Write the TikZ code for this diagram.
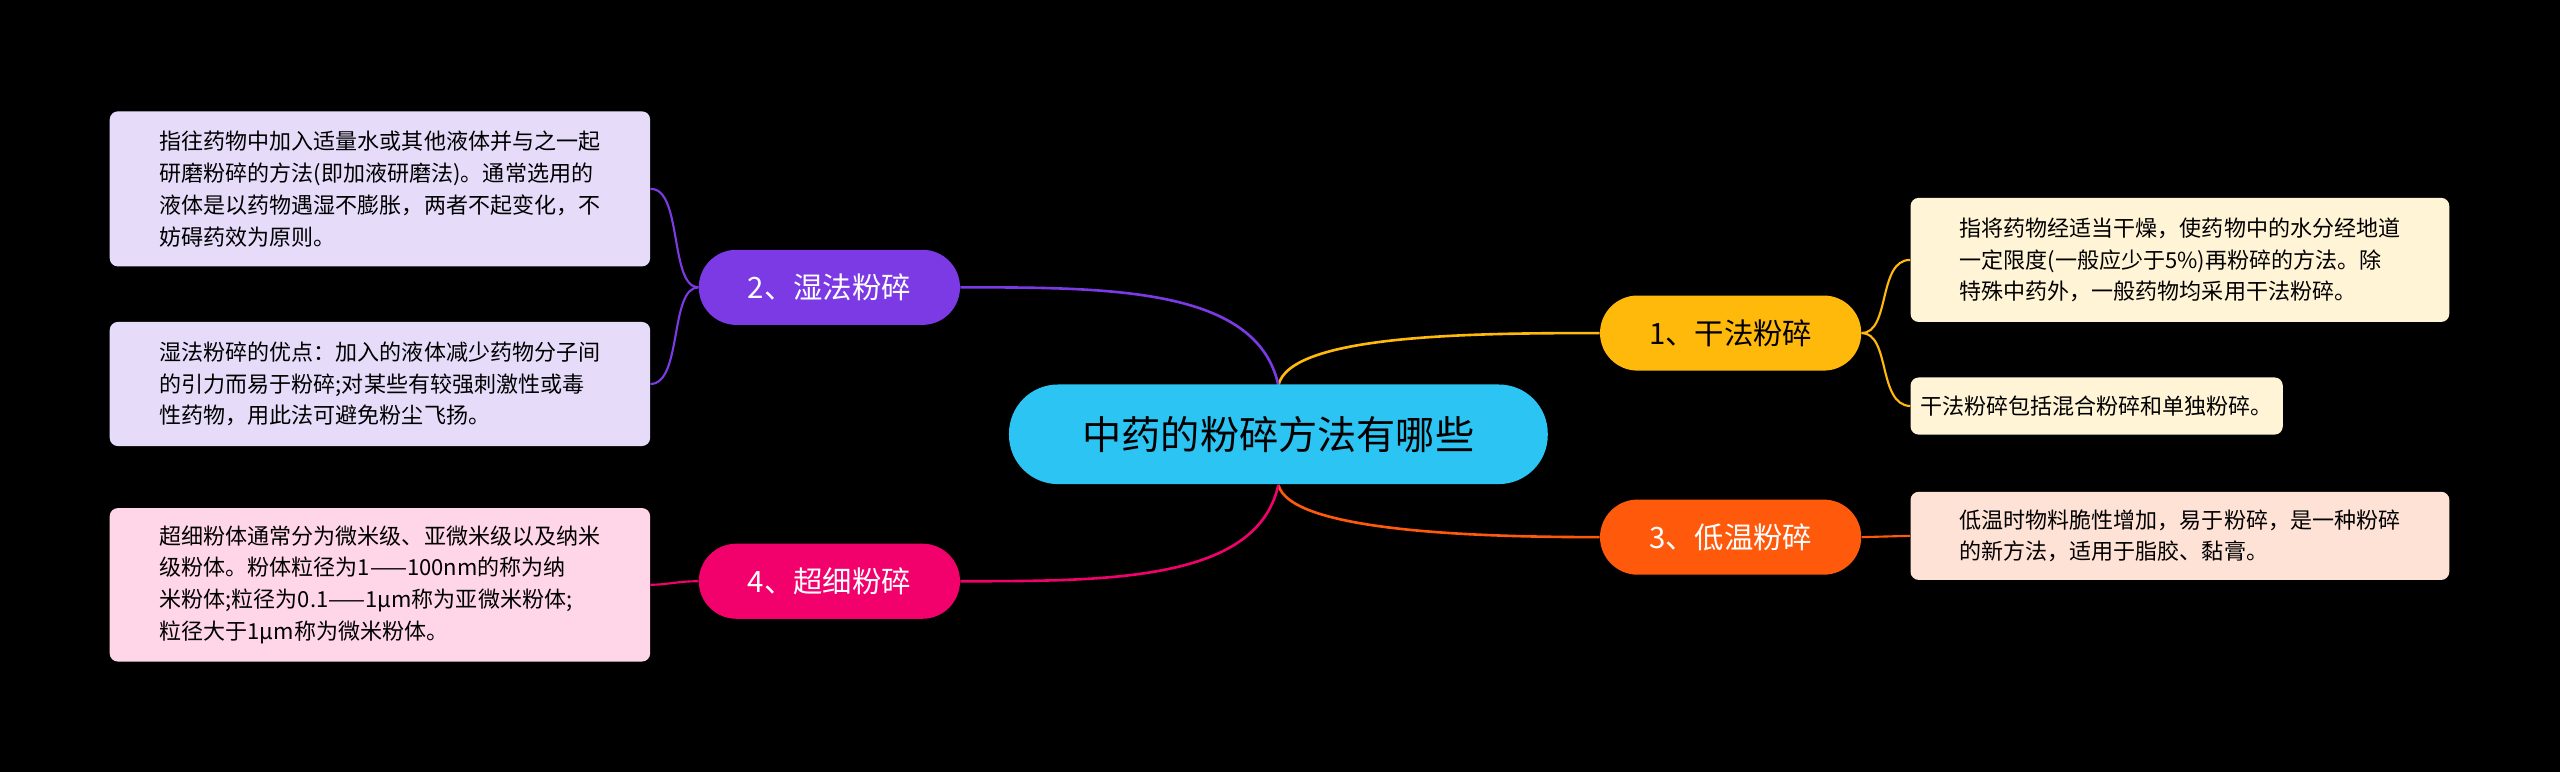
\documentclass[tikz,border=0pt]{standalone}
\usepackage{fontspec}
\setmainfont{Noto Sans CJK SC}
\begin{document}
\begin{tikzpicture}[x=1pt,y=-1pt,
 branch/.style={rounded corners=23pt,minimum width=160pt,minimum height=46pt,font=\fontsize{18}{20}\selectfont,inner sep=0pt},
 leaf/.style={rounded corners=5pt,anchor=north west,align=left,font=\fontsize{13.5}{19.5}\selectfont,inner xsep=6pt,inner ysep=5pt,text=black},
 con/.style={line width=1.6pt}]
\fill[black] (0,0) rectangle (1568,473);
\useasboundingbox (0,0) rectangle (1568,473);
\definecolor{cy}{HTML}{2BC4F3}\definecolor{yl}{HTML}{FFB90A}\definecolor{og}{HTML}{FF5A0C}
\definecolor{pu}{HTML}{7B3AE4}\definecolor{pk}{HTML}{F2006C}
\definecolor{lyl}{HTML}{FFF4D6}\definecolor{log}{HTML}{FFE2D6}\definecolor{lpu}{HTML}{E6DCFA}\definecolor{lpk}{HTML}{FFD6E7}
% nodes
\node[branch,fill=yl,text=black] (b1) at (1060,204) {1、干法粉碎};
\node[branch,fill=og,text=white] (b3) at (1060,329) {3、低温粉碎};
\node[branch,fill=pu,text=white] (b2) at (508,176) {2、湿法粉碎};
\node[branch,fill=pk,text=white] (b4) at (508,356) {4、超细粉碎};
\node[leaf,fill=lyl,minimum width=330pt,minimum height=76pt] (r1) at (1170,121) {指将药物经适当干燥，使药物中的水分经地道\\一定限度(一般应少于5\%)再粉碎的方法。除\\特殊中药外，一般药物均采用干法粉碎。};
\node[leaf,fill=lyl,minimum height=35pt] (r2) at (1170,231) {干法粉碎包括混合粉碎和单独粉碎。};
\node[leaf,fill=log,minimum width=330pt,minimum height=54pt] (r3) at (1170,301) {低温时物料脆性增加，易于粉碎，是一种粉碎\\的新方法，适用于脂胶、黏膏。};
\node[leaf,fill=lpu,minimum width=331pt,minimum height=95pt] (l1) at (67,68) {指往药物中加入适量水或其他液体并与之一起\\研磨粉碎的方法(即加液研磨法)。通常选用的\\液体是以药物遇湿不膨胀，两者不起变化，不\\妨碍药效为原则。};
\node[leaf,fill=lpu,minimum width=331pt,minimum height=76pt] (l2) at (67,197) {湿法粉碎的优点：加入的液体减少药物分子间\\的引力而易于粉碎;对某些有较强刺激性或毒\\性药物，用此法可避免粉尘飞扬。};
\node[leaf,fill=lpk,minimum width=331pt,minimum height=94pt] (l3) at (67,311) {超细粉体通常分为微米级、亚微米级以及纳米\\级粉体。粉体粒径为1——100nm的称为纳\\米粉体;粒径为0.1——1μm称为亚微米粉体;\\粒径大于1μm称为微米粉体。};
% connectors
\draw[con,yl] (783,236) .. controls (790,205) and (900,204) .. (b1.west);
\draw[con,og] (783,297) .. controls (790,325) and (900,329) .. (b3.west);
\draw[con,pu] (783,236) .. controls (770,176) and (680,176) .. (b2.east);
\draw[con,pk] (783,297) .. controls (770,356) and (680,356) .. (b4.east);
\node[rounded corners=30pt,fill=cy,minimum width=330pt,minimum height=61pt,font=\fontsize{24}{26}\selectfont] (c) at (783,266) {中药的粉碎方法有哪些};
\draw[con,yl,line width=1.3pt] (b1.east) .. controls (1158,204) and (1150,159) .. (r1.west);
\draw[con,yl,line width=1.3pt] (b1.east) .. controls (1158,204) and (1150,248) .. (r2.west);
\draw[con,og,line width=1.3pt] (b3.east) -- (r3.west);
\draw[con,pu,line width=1.3pt] (b2.west) .. controls (410,176) and (418,115) .. (l1.east);
\draw[con,pu,line width=1.3pt] (b2.west) .. controls (410,176) and (418,235) .. (l2.east);
\draw[con,pk,line width=1.3pt] (b4.west) .. controls (415,356) and (410,358) .. (l3.east);
\end{tikzpicture}
\end{document}
